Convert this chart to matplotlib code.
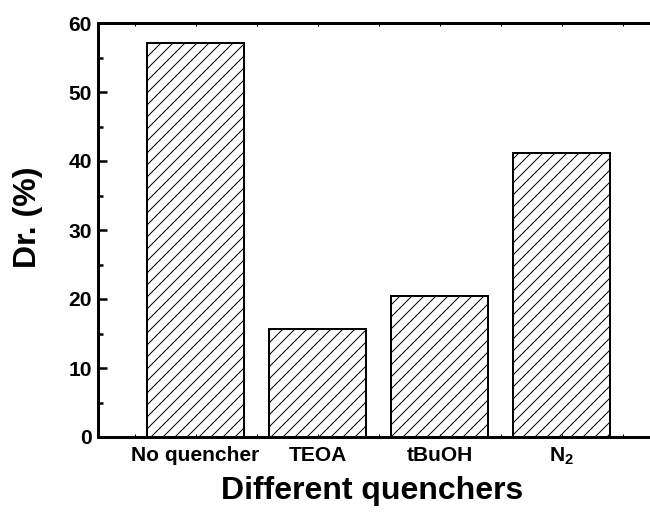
import matplotlib
matplotlib.use("Agg")
import matplotlib.pyplot as plt
from matplotlib.ticker import MultipleLocator

categories = ["No quencher", "TEOA", "tBuOH", r"$\mathbf{N_2}$"]
dr_values = [57.1, 15.7, 20.5, 41.1]

plt.rcParams["font.family"] = ["Liberation Sans", "DejaVu Sans"]
plt.rcParams["font.weight"] = "bold"
plt.rcParams["mathtext.fontset"] = "custom"
plt.rcParams["mathtext.rm"] = "Liberation Sans:bold"
plt.rcParams["mathtext.bf"] = "Liberation Sans:bold"
plt.rcParams["mathtext.it"] = "Liberation Sans:bold:italic"
plt.rcParams["hatch.linewidth"] = 1.0
plt.rcParams["hatch.color"] = "black"

DPI = 72
fig = plt.figure(figsize=(650 / DPI, 514 / DPI), dpi=DPI)
W, H = 650, 514
left, right, top, bottom = 98, 653, 23, 437
ax = fig.add_axes([left / W, (H - bottom) / H, (right - left) / W, (bottom - top) / H])

positions = list(range(1, len(categories) + 1))
ax.bar(positions, dr_values, width=0.8, facecolor="white",
       edgecolor="black", linewidth=2, hatch="//")

ax.set_xlim(0.2, 4.75)
ax.set_ylim(0, 60)

ax.set_xticks(positions)
ax.set_xticklabels(categories)
ax.xaxis.set_minor_locator(MultipleLocator(0.5))
ax.yaxis.set_major_locator(MultipleLocator(10))
ax.yaxis.set_minor_locator(MultipleLocator(5))

for side in ["left", "bottom", "top", "right"]:
    ax.spines[side].set_linewidth(3)

ax.tick_params(axis="y", which="major", direction="in", length=9, width=2.5,
               labelsize=21, pad=6, right=False)
ax.tick_params(axis="y", which="minor", direction="in", length=5, width=2.5,
               right=False)
ax.tick_params(axis="x", which="major", direction="in", length=3, width=1,
               labelsize=21, pad=9, top=True)
ax.tick_params(axis="x", which="minor", direction="in", length=3, width=1,
               top=True)

for lbl in ax.get_xticklabels() + ax.get_yticklabels():
    lbl.set_fontweight("bold")

# Axis titles placed at fixed figure positions
fig.text(372 / W, 1 - 491 / H, "Different quenchers", fontsize=32,
         fontweight="bold", ha="center", va="center")
fig.text(28 / W, 1 - 217 / H, "Dr. (%)", fontsize=32, fontweight="bold",
         ha="center", va="center", rotation=90)

fig.savefig("out.png", dpi=DPI)
